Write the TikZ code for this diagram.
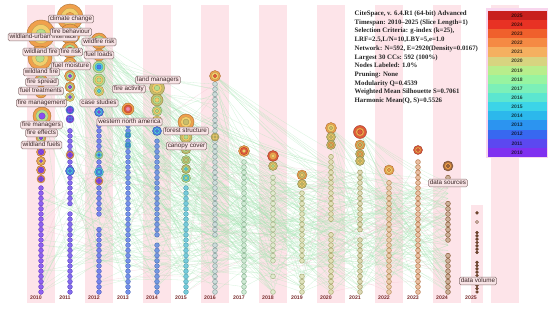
\documentclass[tikz,border=0pt]{standalone}
\usepackage{fontspec}
\newfontfamily\lsans{Liberation Sans}
\newfontfamily\lserif{Liberation Serif}
\pgfdeclarelayer{back}
\pgfdeclarelayer{edges}
\pgfsetlayers{back,edges,main}
% ring colours
\definecolor{cOr}{HTML}{F0A04C}
\definecolor{cYe}{HTML}{F2CE6C}
\definecolor{cGr}{HTML}{B6DE8E}
\definecolor{cPu}{HTML}{8A4CF0}
\definecolor{cBl}{HTML}{4C7CF0}
\definecolor{cRd}{HTML}{E2583A}
\definecolor{cOl}{HTML}{C8BE6C}
\definecolor{cCy}{HTML}{54CCE2}
\definecolor{cPk}{HTML}{F48CAA}
\definecolor{cBr}{HTML}{A06840}
% dot colours
\definecolor{c10d}{HTML}{7B45EE}
\definecolor{c11d}{HTML}{6E52EC}
\definecolor{c12d}{HTML}{5E6EEA}
\definecolor{c13d}{HTML}{5C7FE6}
\definecolor{c14d}{HTML}{5C86DC}
\definecolor{c15d}{HTML}{5EC2D4}
\definecolor{c16d}{HTML}{A4C0BC}
\definecolor{c17d}{HTML}{A8D8B0}
\definecolor{c18d}{HTML}{C4D8A4}
\definecolor{c19d}{HTML}{C6CC88}
\definecolor{c20d}{HTML}{C8C47E}
\definecolor{c21d}{HTML}{C2BA78}
\definecolor{c22d}{HTML}{D8A468}
\definecolor{c23d}{HTML}{D88E5A}
\definecolor{c24d}{HTML}{A47248}
\definecolor{c25d}{HTML}{7A4A30}
% legend colours
\definecolor{l25}{HTML}{C8201E}
\definecolor{l24}{HTML}{E83224}
\definecolor{l23}{HTML}{F0602C}
\definecolor{l22}{HTML}{F58A44}
\definecolor{l21}{HTML}{F5B060}
\definecolor{l20}{HTML}{D8D480}
\definecolor{l19}{HTML}{B8EE8C}
\definecolor{l18}{HTML}{98F4A0}
\definecolor{l17}{HTML}{7CF0B8}
\definecolor{l16}{HTML}{5CE6D0}
\definecolor{l15}{HTML}{3CD4E8}
\definecolor{l14}{HTML}{2CB8EC}
\definecolor{l13}{HTML}{2C94F0}
\definecolor{l12}{HTML}{3868F0}
\definecolor{l11}{HTML}{5C48F0}
\definecolor{l10}{HTML}{8030F0}
% others
\definecolor{bandpink}{HTML}{FDE4E9}
\definecolor{edgegreen}{HTML}{A4E6B2}
\definecolor{edgepink}{HTML}{F2B8C8}
\definecolor{labfill}{HTML}{F8E4E6}
\definecolor{labdraw}{HTML}{8A7474}
\definecolor{labtext}{HTML}{3A2626}
\definecolor{yeartext}{HTML}{7A2E2E}
\definecolor{legframe}{HTML}{F8D6EE}

\tikzset{
  dot/.style={circle, inner sep=0pt, minimum size=4.8pt, fill=#1!85!white, draw=#1!80!black, line width=0.35pt},
  hdot/.style={circle, inner sep=0pt, minimum size=4.8pt, fill=#1!55!white, draw=#1!85!black, line width=0.5pt},
  sdot/.style={circle, inner sep=0pt, minimum size=3pt, fill=#1, draw=#1!70!black, line width=0.3pt},
  lab/.style={draw=labdraw, fill=labfill, rounded corners=1.5pt, inner xsep=1.5pt, inner ysep=0.9pt,
    text height=4.6pt, text depth=1.3pt, line width=0.5pt, text=labtext, font=\lsans\fontsize{6.3}{7}\selectfont},
  edge/.style={draw=edgegreen, line width=0.3pt, opacity=0.45},
  pedge/.style={draw=edgepink, line width=0.3pt, opacity=0.45},
  ylab/.style={font=\lsans\bfseries\fontsize{5.2}{6}\selectfont, text=yeartext, inner sep=0pt},
  band/.style={fill=bandpink}
}

% column of dots: #1 year, #2 x, #3 top y, #4-#5 gap1, #6-#7 gap2, #8 colour, #9 style
\newcommand\dcol[9]{%
  \pgfmathtruncatemacro\nn{(292-#3)/5.2}%
  \foreach \k in {0,...,\nn}{%
    \pgfmathsetmacro\yy{292-5.2*\k}%
    \pgfmathtruncatemacro\ingap{((\yy>#4)&&(\yy<#5))||((\yy>#6)&&(\yy<#7))}%
    \ifnum\ingap=0 \node[#9=#8] (d#1-\k) at (#2,\yy) {};\else\coordinate (d#1-\k) at (#2,\yy);\fi
  }}
% ring node: #1 name, #2 x, #3 y, #4 r, #5 outer, #6 middle, #7 inner
\newcommand\ring[7]{%
  \node[circle, inner sep=0pt, minimum size=#4*2pt, fill=#5, draw=#5!70!black, line width=0.4pt] (#1) at (#2,#3) {};
  \filldraw[fill=#6, draw=#6!75!black, line width=0.3pt] (#1.center) circle[radius=#4*0.68pt];
  \filldraw[fill=#7, draw=#7!75!black, line width=0.3pt] (#1.center) circle[radius=#4*0.36pt];}

\begin{document}
\begin{tikzpicture}[x=1pt,y=-1pt]
\useasboundingbox (0,0) rectangle (550,310);
\begin{pgfonlayer}{back}
  \fill[white] (0,0) rectangle (550,310);
  \foreach \i in {0,2,...,16}{\fill[band] ({41+29*\i-14},5) rectangle ({41+29*\i+14},303);}
  \fill[band] (471,205) rectangle (483,303);
\end{pgfonlayer}

% ---- dot columns ----
\dcol{2010}{41}{187}{0}{0}{0}{0}{c10d}{dot}
\dcol{2011}{70}{128}{205}{214}{0}{0}{c11d}{dot}
\dcol{2012}{99}{125}{219}{225}{0}{0}{c12d}{dot}
\dcol{2013}{128}{118}{0}{0}{0}{0}{c13d}{dot}
\dcol{2014}{157}{140}{236}{243}{0}{0}{c14d}{dot}
\dcol{2015}{186}{186}{0}{0}{0}{0}{c15d}{dot}
\dcol{2016}{215}{84}{236}{243}{0}{0}{c16d}{hdot}
\dcol{2017}{244}{160}{0}{0}{0}{0}{c17d}{hdot}
\dcol{2018}{273}{174}{262}{274}{280}{290}{c18d}{hdot}
\dcol{2019}{302}{192}{266}{276}{0}{0}{c19d}{hdot}
\dcol{2020}{331}{153}{221}{230}{0}{0}{c20d}{hdot}
\dcol{2021}{360}{168}{232}{240}{0}{0}{c21d}{hdot}
\dcol{2022}{389}{178}{0}{0}{0}{0}{c22d}{hdot}
\dcol{2023}{418}{157}{0}{0}{0}{0}{c23d}{hdot}
\dcol{2024}{448}{174}{186}{201}{245}{252}{c24d}{hdot}
\foreach \k in {0,...,24}{%
  \pgfmathsetmacro\yy{292-3.3*\k}%
  \pgfmathtruncatemacro\ingap{((\yy>253)&&(\yy<262))||((\yy>215)&&(\yy<230))}%
  \ifnum\ingap=0 \node[sdot=c25d] (d2025-\k) at (477,\yy) {};\fi}
\node[circle, inner sep=0pt, minimum size=3pt, draw=c25d, fill=white, line width=0.4pt] (d2025-x) at (477,222) {};

% ---- ring nodes ----
\ring{r10a}{41}{34}{14}{cOr}{cYe}{cGr}
\ring{r10b}{40}{58}{12}{cOr}{cYe}{cGr}
\ring{r10c}{41}{80}{6}{cOr}{cGr}{cPu}
\ring{r10d}{41}{92}{6}{cOr}{cYe}{cPu}
\ring{r10e}{42}{116}{9}{cOr}{cGr}{cPu}
\ring{r10f}{41}{138}{5}{cOr}{cGr}{cPu}
\ring{r10g}{41}{152}{4.5}{cOr}{cPu}{cPu}
\ring{r10h}{41}{161}{4.5}{cOr}{cYe}{cPu}
\ring{r10i}{41}{170}{4.5}{cOr}{cPu}{cPu}
\ring{r10j}{41}{179}{4}{cOr}{cPu}{cPu}

\ring{r11a}{70}{17}{13}{cOr}{cYe}{cOr}
\ring{r11b}{70}{34}{10}{cOr}{cYe}{cGr}
\ring{r11c}{70}{50}{8}{cOr}{cGr}{cRd}
\ring{r11d}{70}{64}{6.5}{cOr}{cYe}{cPu}
\ring{r11e}{70}{76}{5.5}{cOr}{cGr}{cPu}
\ring{r11f}{70}{87}{5}{cOr}{cGr}{cPu}
\ring{r11g}{70}{97}{4.5}{cYe}{cGr}{cPu}
\ring{r11h}{70}{110}{4}{cBl}{cPu}{cPu}
\ring{r11i}{70}{119}{4}{cPu}{cBl}{cPu}
\ring{r11j}{70}{155}{4}{cOr}{cPu}{cPu}
\ring{r11k}{70}{171}{4.5}{cBl}{cCy}{cBl}

\ring{r12a}{99}{41}{8}{cOr}{cGr}{cYe}
\ring{r12b}{99}{55}{6}{cOr}{cYe}{cGr}
\ring{r12c}{99}{67}{6}{cGr}{cCy}{cBl}
\ring{r12d}{99}{80}{6}{cGr}{cYe}{cGr}
\ring{r12e}{99}{91}{5}{cYe}{cGr}{cCy}
\ring{r12f}{99}{112}{4.5}{cBl}{cCy}{cPu}
\ring{r12g}{99}{155}{4}{cGr}{cCy}{cBl}
\ring{r12h}{99}{172}{4.5}{cCy}{cBl}{cCy}
\ring{r12i}{99}{181}{4}{cOr}{cPu}{cPu}

\ring{r13a}{128}{109}{6}{cOr}{cRd}{cPk}
\ring{r13b}{128}{135}{3}{cCy}{cBl}{cCy}
\ring{r13c}{128}{145}{3}{cCy}{cBl}{cCy}

\ring{r14a}{157}{88}{7.5}{cOl}{cYe}{cGr}
\ring{r14b}{157}{100}{6}{cOl}{cGr}{cYe}
\ring{r14c}{157}{111}{5}{cGr}{cYe}{cGr}
\ring{r14d}{157}{121}{5}{cYe}{cGr}{cCy}
\ring{r14e}{157}{131}{4.5}{cBl}{cCy}{cBl}

\ring{r15a}{186}{122}{8}{cOr}{cYe}{cOl}
\ring{r15b}{186}{137}{6}{cOl}{cYe}{cGr}
\ring{r15c}{186}{149}{5}{cOl}{cGr}{cOl}
\ring{r15d}{186}{160}{4.5}{cGr}{cOl}{cGr}
\ring{r15e}{186}{169}{4.5}{cOl}{cGr}{cCy}
\ring{r15f}{186}{178}{4.5}{cGr}{cCy}{cGr}

\ring{r16a}{215}{76}{5.5}{cOr}{cYe}{cRd}
\ring{r16b}{215}{137}{4}{cOl}{cYe}{cOl}
\ring{r17a}{244}{151}{5.5}{cOr}{cRd}{cYe}
\ring{r18a}{273}{156}{5.5}{cRd}{cOr}{cYe}
\ring{r18b}{273}{166}{4.5}{cOl}{cYe}{cGr}
\ring{r19a}{302}{175}{5}{cOr}{cOl}{cYe}
\ring{r19b}{302}{184}{4.5}{cOl}{cYe}{cOl}
\ring{r20a}{331}{128}{5.5}{cOr}{cYe}{cOl}
\ring{r20b}{331}{137}{4.5}{cOl}{cYe}{cOl}
\ring{r20c}{331}{145}{4.5}{cOl}{cOr}{cOl}
\ring{r21a}{360}{132}{6.5}{cRd}{cOr}{cRd}
\ring{r21b}{360}{145}{5}{cOr}{cOl}{cOr}
\ring{r21c}{360}{154}{4.5}{cOl}{cOr}{cOl}
\ring{r21d}{360}{161}{4.5}{cOl}{cYe}{cOl}
\ring{r22a}{389}{170}{5}{cOr}{cYe}{cOr}
\ring{r23a}{418}{150}{4.5}{cRd}{cOr}{cRd}
\ring{r24a}{448}{166}{5}{cBr}{cOr}{cBr}

% ---- edges ----
\def\xtops{{187,128,125,118,140,186,84,160,174,192,153,168,178,157,174}}
\begin{pgfonlayer}{edges}
\pgfmathsetseed{4711}
\foreach \e in {1,...,430}{%
  \pgfmathtruncatemacro\ia{random(0,12)}%
  \pgfmathtruncatemacro\ib{min(14,\ia+random(1,6))}%
  \pgfmathtruncatemacro\na{(292-\xtops[\ia])/5.2}%
  \pgfmathtruncatemacro\nb{(292-\xtops[\ib])/5.2}%
  \pgfmathtruncatemacro\ka{random(0,\na)}%
  \pgfmathtruncatemacro\kb{random(0,\nb)}%
  \pgfmathtruncatemacro\ya{2010+\ia}%
  \pgfmathtruncatemacro\yb{2010+\ib}%
  \pgfmathtruncatemacro\pk{random(1,7)}%
  \ifnum\pk=1 \draw[pedge] (d\ya-\ka) to[bend left=6] (d\yb-\kb);
  \else \draw[edge] (d\ya-\ka) to[bend left=6] (d\yb-\kb);\fi
}
\foreach \rn/\ci in {r10a/0,r10b/0,r10e/0,r11a/1,r11b/1,r11c/1,r11d/1,r12a/2,r12b/2,r12c/2,r12d/2,r13a/3,r14a/4,r14b/4,r15a/5,r16a/6,r20a/10,r21a/11}{%
  \foreach \j in {1,...,11}{%
    \pgfmathtruncatemacro\ib{min(14,\ci+random(1,9))}%
    \pgfmathtruncatemacro\nb{(292-\xtops[\ib])/5.2}%
    \pgfmathtruncatemacro\kb{random(0,\nb)}%
    \pgfmathtruncatemacro\yb{2010+\ib}%
    \draw[edge] (\rn) to[bend right=5] (d\yb-\kb);
  }}
\end{pgfonlayer}

% ---- labels ----
\node[lab] (lwui) at (43,37) {wildland-urban interface};
\node[lab] (lcc) at (71,19) {climate change};
\node[lab] (lfb) at (71,32) {fire behaviour};
\node[lab] (lwr) at (99,42) {wildfire risk};
\node[lab] (lwf1) at (41,52) {wildland fire};
\node[lab] (lfr) at (71,52) {fire risk};
\node[lab] (lfl) at (99,55) {fuel loads};
\node[lab] (lfmo) at (71,66) {fuel moisture};
\node[lab] (lwf2) at (41.5,72) {wildland fire};
\node[lab] (lfs) at (42,82) {fire spread};
\node[lab] (lft) at (41,91) {fuel treatments};
\node[lab] (lfmg) at (41.5,103) {fire management};
\node[lab] (lcs) at (99,103) {case studies};
\node[lab] (lfa) at (129,89) {fire activity};
\node[lab] (llm) at (158,80) {land managers};
\node[lab] (lwna) at (129.5,122) {western north america};
\node[lab] (lfmr) at (41.5,125) {fire managers};
\node[lab] (lfe) at (41.5,133) {fire effects};
\node[lab] (lwfu) at (41.5,145) {wildland fuels};
\node[lab] (lfst) at (186,131) {forest structure};
\node[lab] (lcan) at (186.5,146) {canopy cover};
\node[lab] (lds) at (448,183) {data sources};
\node[lab] (ldv) at (478,281) {data volume};

% ---- year axis ----
\foreach \i in {0,...,15}{%
  \pgfmathtruncatemacro\yr{2010+\i}%
  \node[ylab] (yl\i) at ({36+29*\i},298) {\yr};}

% ---- info text ----
\node[anchor=north west, inner sep=0pt, align=left, text=black!85,
  font=\lserif\bfseries\fontsize{6.8}{8.7}\selectfont] (info) at (354.5,10.6)
  {CiteSpace, v. 6.4.R1 (64-bit) Advanced\\
   Timespan: 2010–2025 (Slice Length=1)\\
   Selection Criteria: g-index (k=25),\\
   LRF=2.5,L/N=10,LBY=5,e=1.0\\
   Network: N=592, E=2920(Density=0.0167)\\
   Largest 30 CCs: 592 (100\%)\\
   Nodes Labeled: 1.0\%\\
   Pruning: None\\
   Modularity Q=0.4539\\
   Weighted Mean Silhouette S=0.7061\\
   Harmonic Mean(Q, S)=0.5526};

% ---- legend ----
\fill[legframe] (486.3,8.5) rectangle (547.8,158);
\foreach \c [count=\i from 0] in {l25,l24,l23,l22,l21,l20,l19,l18,l17,l16,l15,l14,l13,l12,l11,l10}{%
  \pgfmathtruncatemacro\yr{2025-\i}%
  \fill[\c] (487.5,{11+9.125*\i}) rectangle (546.5,{11+9.125*(\i+1)});
  \node[font=\lsans\bfseries\fontsize{5}{6}\selectfont, text=\c!30!black, inner sep=0pt] (leg\i) at (517,{15.6+9.125*\i}) {\yr};}
\end{tikzpicture}
\end{document}
